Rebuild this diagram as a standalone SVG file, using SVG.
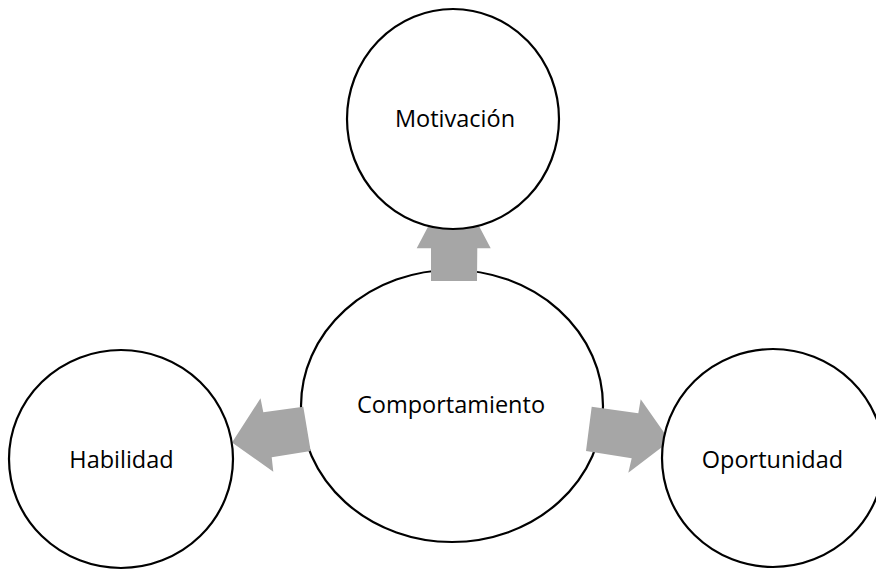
<svg xmlns="http://www.w3.org/2000/svg" width="876" height="570" viewBox="0 0 876 570">
  <style>
    .node { fill: #FFFFFF; stroke: #000000; stroke-width: 2.2; }
    .label { font-family: "Open Sans", "Noto Sans", "Liberation Sans", sans-serif; font-size: 23.5px; fill: #000000; text-anchor: middle; }
    .arrow { fill: #A6A6A6; stroke: none; }
  </style>
  <rect width="876" height="570" fill="#FFFFFF"/>

  <!-- central behaviour node -->
  <g id="comportamiento">
    <ellipse class="node" cx="452" cy="406" rx="151" ry="136"/>
    <text class="label" x="451" y="413">Comportamiento</text>
  </g>

  <!-- block arrows from the centre out to each factor -->
  <g id="connectors">
    <polygon class="arrow" points="431,281 477,281 477.3,248.3 490.7,248.3 453.7,178 416.7,248.3 431,248.3"/>
    <polygon class="arrow" points="310.7,451 271.7,457.3 273.3,471.7 232,442.5 260.5,398.3 263.3,412.3 303.3,406.7"/>
    <polygon class="arrow" points="591.7,406.7 638.3,413.3 640.7,399.3 670,441 628.3,472.7 631.7,458.3 586,451"/>
  </g>

  <g id="motivacion">
    <ellipse class="node" cx="453" cy="119" rx="106" ry="110"/>
    <text class="label" x="455" y="127">Motivación</text>
  </g>

  <g id="habilidad">
    <ellipse class="node" cx="121" cy="459" rx="112" ry="109"/>
    <text class="label" x="121.5" y="468">Habilidad</text>
  </g>

  <g id="oportunidad">
    <ellipse class="node" cx="773" cy="458" rx="111" ry="109"/>
    <text class="label" x="772.5" y="468">Oportunidad</text>
  </g>
</svg>
